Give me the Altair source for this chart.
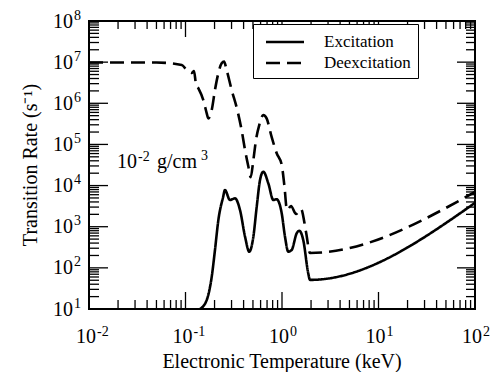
import altair as alt
import pandas as pd

# ---------------- data ----------------
exc_T = [0.141, 0.166, 0.187, 0.202, 0.219, 0.246, 0.256, 0.289, 0.326, 0.367, 0.414,
         0.458, 0.505, 0.547, 0.592, 0.640, 0.721, 0.813, 0.881, 0.993, 1.074, 1.162,
         1.259, 1.42, 1.51, 1.66, 1.87, 1.95, 100.0]
exc_R = [10, 16.6, 61, 270, 1450, 5400, 7810, 4470, 4900, 2550, 572,
         247, 572, 3070, 13700, 21700, 11400, 4470, 4640, 2120, 572, 247,
         272, 692, 800, 475, 74, 51, 3800]

dex_T = [0.01, 0.05, 0.0915, 0.103, 0.1167, 0.1225, 0.1285, 0.136, 0.153, 0.166, 0.172,
         0.187, 0.202, 0.219, 0.237, 0.251, 0.267, 0.301, 0.344, 0.382, 0.414, 0.448,
         0.474, 0.505, 0.538, 0.582, 0.640, 0.693, 0.782, 0.881, 0.993, 1.057, 1.127,
         1.24, 1.397, 1.574, 1.774, 1.95, 100.0]
dex_R = [9.8e6, 9.8e6, 8.5e6, 6.4e6, 5.5e6, 6.1e6, 2.9e6, 2.3e6, 1.2e6, 5.7e5, 4.3e5,
         6.9e5, 2.1e6, 5.4e6, 9.4e6, 1.03e7, 6.4e6, 2.1e6, 6.9e5, 2.2e5, 7.3e4, 2.9e4,
         1.6e4, 4.2e4, 1.3e5, 3.0e5, 5.2e5, 4.3e5, 1.5e5, 6.1e4, 3.2e4, 1.03e4, 2550,
         3190, 2040, 2700, 745, 230, 7000]

series_names = ["Excitation", "Deexcitation"]

x_major = [0.01, 0.1, 1, 10, 100]
x_exps = ["-2", "-1", "0", "1", "2"]
x_minor = [k * 10.0 ** e for e in (-2, -1, 0, 1) for k in range(2, 10)]

y_major = [1e1, 1e2, 1e3, 1e4, 1e5, 1e6, 1e7, 1e8]
y_exps = ["1", "2", "3", "4", "5", "6", "7", "8"]
y_minor = [k * 10.0 ** e for e in range(1, 8) for k in range(2, 10)]

label_base = "10"
x_title = "Electronic Temperature (keV)"
y_title = "Transition Rate (s⁻¹)"

annot_T = [0.0195]
annot_R = [2.67e4]
annot_parts = ["10", "-2", "g/cm", "3"]

# ---------------- build chart ----------------
W, H = 386, 288
FONT = "Liberation Serif"

df = pd.concat([
    pd.DataFrame({"T": exc_T, "R": exc_R, "series": series_names[0]}),
    pd.DataFrame({"T": dex_T, "R": dex_R, "series": series_names[1]}),
])

xscale = alt.Scale(type="log", domain=[0.01, 100], nice=False)
yscale = alt.Scale(type="log", domain=[10, 1e8], nice=False)

lines = alt.Chart(df).mark_line(color="black", strokeWidth=2.6, clip=True,
                                interpolate="monotone").encode(
    x=alt.X("T:Q", scale=xscale, axis=None),
    y=alt.Y("R:Q", scale=yscale, axis=None),
    strokeDash=alt.StrokeDash(
        "series:N",
        sort=series_names,
        scale=alt.Scale(domain=series_names, range=[[1, 0], [14, 7]]),
        legend=alt.Legend(title=None, orient="none", legendX=164, legendY=3,
                          strokeColor="black", fillColor="white", padding=7,
                          symbolType="M-2,0L2,0", symbolSize=361, symbolStrokeWidth=2.6,
                          symbolStrokeColor="black", symbolOffset=14,
                          labelFont=FONT, labelFontSize=17,
                          labelColor="black", rowPadding=2, labelOffset=28),
    ),
)


def tick_layer(vals, axis, start, end):
    d = pd.DataFrame({"v": vals})
    c = alt.Chart(d).mark_rule(color="black", strokeWidth=1.3)
    if axis == "x":
        return c.encode(x=alt.X("v:Q", scale=xscale, axis=None),
                        y=alt.value(start), y2=alt.value(end))
    return c.encode(y=alt.Y("v:Q", scale=yscale, axis=None),
                    x=alt.value(start), x2=alt.value(end))


ticks = [
    tick_layer(x_major, "x", H, H - 17),
    tick_layer(x_minor, "x", H, H - 9),
    tick_layer(x_major, "x", 0, 16),
    tick_layer(x_minor, "x", 0, 8),
    tick_layer(y_major, "y", 0, 19),
    tick_layer(y_minor, "y", 0, 10),
    tick_layer(y_major, "y", W, W - 18),
    tick_layer(y_minor, "y", W, W - 9),
]

# tick labels: "10" plus a raised exponent
xl = pd.DataFrame({"v": x_major, "e": x_exps, "b": label_base})
yl = pd.DataFrame({"v": y_major, "e": y_exps, "b": label_base})

x_base = alt.Chart(xl).mark_text(font=FONT, fontSize=20, align="right", baseline="alphabetic",
                                 dx=7, color="black").encode(
    x=alt.X("v:Q", scale=xscale, axis=None), y=alt.value(H + 34), text="b:N")
x_exp = alt.Chart(xl).mark_text(font=FONT, fontSize=14, align="left", baseline="alphabetic",
                                dx=8, color="black").encode(
    x=alt.X("v:Q", scale=xscale, axis=None), y=alt.value(H + 27), text="e:N")
y_base = alt.Chart(yl).mark_text(font=FONT, fontSize=20, align="right", baseline="alphabetic",
                                 dy=6.5, color="black").encode(
    y=alt.Y("v:Q", scale=yscale, axis=None), x=alt.value(-16), text="b:N")
y_exp = alt.Chart(yl).mark_text(font=FONT, fontSize=14, align="left", baseline="alphabetic",
                                dy=-1.5, color="black").encode(
    y=alt.Y("v:Q", scale=yscale, axis=None), x=alt.value(-15), text="e:N")

titles_df = pd.DataFrame({"xt": [x_title], "yt": [y_title]})
xt = alt.Chart(titles_df).mark_text(font=FONT, fontSize=20, align="center", baseline="alphabetic",
                                    color="black").encode(
    x=alt.value(W / 2), y=alt.value(H + 59), text="xt:N")
yt = alt.Chart(titles_df).mark_text(font=FONT, fontSize=20, align="center", baseline="alphabetic",
                                    angle=270, color="black").encode(
    x=alt.value(-52), y=alt.value(H / 2), text="yt:N")

# annotation "10^-2 g/cm^3"
adf = pd.DataFrame({"T": annot_T, "R": annot_R, "a": annot_parts[0], "b": annot_parts[1],
                    "c": annot_parts[2], "d": annot_parts[3]})
part_styles = [("a", 20, 0, 0), ("b", 14, 21, -7), ("c", 20, 40, 0), ("d", 14, 84, -8)]
annots = [
    alt.Chart(adf).mark_text(font=FONT, fontSize=fs, align="left", baseline="alphabetic",
                             dx=dx, dy=dy, color="black").encode(
        x=alt.X("T:Q", scale=xscale, axis=None),
        y=alt.Y("R:Q", scale=yscale, axis=None),
        text=f"{col}:N")
    for col, fs, dx, dy in part_styles
]

chart = alt.layer(lines, *ticks, x_base, x_exp, y_base, y_exp, xt, yt, *annots).properties(
    width=W, height=H,
    padding={"left": 89, "top": 21, "right": 26, "bottom": 63},
    autosize=alt.AutoSizeParams(type="none"),
    background="white",
).configure(
    font=FONT
).configure_text(
    font=FONT
).configure_view(
    stroke="black", strokeWidth=2
)

chart.save("out.html", embed_options={"renderer": "svg", "actions": False})
